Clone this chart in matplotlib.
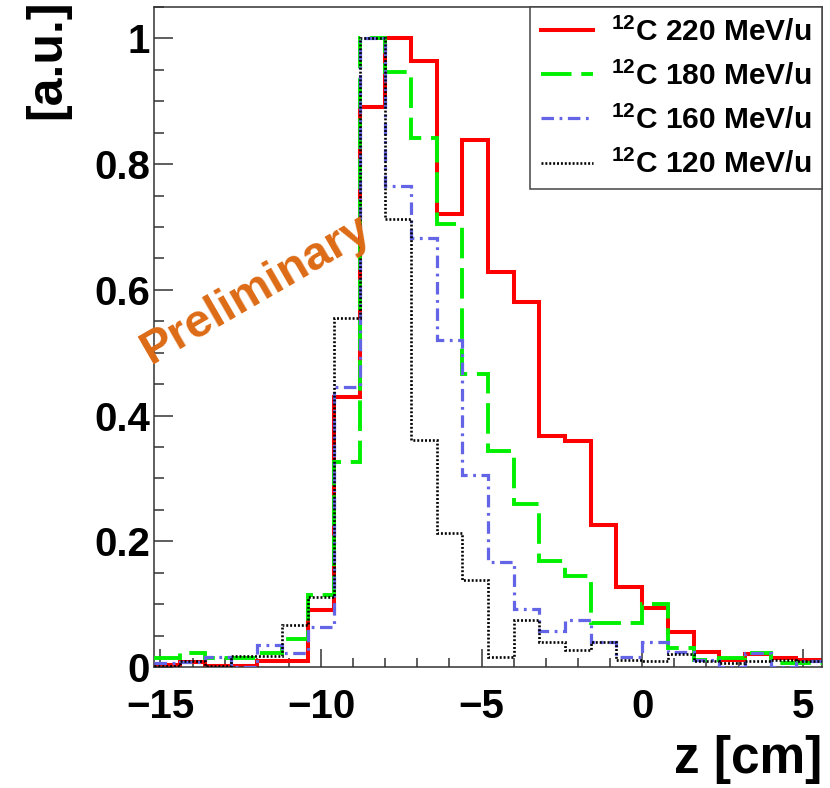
import numpy as np
import matplotlib
matplotlib.use("Agg")
import matplotlib.pyplot as plt
from matplotlib.ticker import MultipleLocator, FixedLocator, FuncFormatter

# ---------------- data ----------------
bin_edges = np.linspace(-15.2, 5.6, 27)   # 26 bins, 0.8 cm wide

c220 = [0.003, 0.008, 0.002, 0.002, 0.010, 0.010, 0.090, 0.430, 0.891, 1.000,
        0.964, 0.721, 0.838, 0.628, 0.580, 0.368, 0.360, 0.226, 0.128, 0.094,
        0.056, 0.024, 0.011, 0.020, 0.015, 0.011]
c180 = [0.014, 0.022, 0.014, 0.014, 0.023, 0.045, 0.115, 0.326, 1.000, 0.947,
        0.841, 0.704, 0.466, 0.344, 0.259, 0.168, 0.145, 0.070, 0.070, 0.100,
        0.030, 0.011, 0.014, 0.023, 0.007, 0.006]
c160 = [0.006, 0.008, 0.016, 0.000, 0.035, 0.023, 0.063, 0.446, 1.000, 0.765,
        0.683, 0.521, 0.306, 0.167, 0.092, 0.057, 0.074, 0.040, 0.016, 0.040,
        0.024, 0.011, 0.000, 0.022, 0.000, 0.010]
c120 = [0.001, 0.010, 0.001, 0.017, 0.017, 0.067, 0.112, 0.556, 1.000, 0.712,
        0.361, 0.213, 0.139, 0.016, 0.074, 0.039, 0.027, 0.039, 0.011, 0.010,
        0.020, 0.010, 0.006, 0.010, 0.011, 0.010]

labels = [r"$^{\mathregular{12}}$C 220 MeV/u",
          r"$^{\mathregular{12}}$C 180 MeV/u",
          r"$^{\mathregular{12}}$C 160 MeV/u",
          r"$^{\mathregular{12}}$C 120 MeV/u"]
xticks = [-15, -10, -5, 0, 5]
yticks = [0, 0.2, 0.4, 0.6, 0.8, 1.0]
xlabel = "z [cm]"
ylabel = "[a.u.]"
watermark = "Preliminary"

# ---------------- style ----------------
plt.rcParams["font.family"] = ["Liberation Sans", "DejaVu Sans"]
plt.rcParams["font.weight"] = "bold"
plt.rcParams["mathtext.fontset"] = "custom"
plt.rcParams["mathtext.rm"] = "Liberation Sans:bold"
plt.rcParams["mathtext.bf"] = "Liberation Sans:bold"
plt.rcParams["mathtext.it"] = "Liberation Sans:italic:bold"
plt.rcParams["lines.scale_dashes"] = False

fig = plt.figure(figsize=(8.30, 7.88), dpi=100)
ax = fig.add_axes([154/830, 1 - 667/788, (822 - 154)/830, (667 - 7)/788])

styles = [
    dict(color="#FF0000", linewidth=2.9, linestyle="-"),
    dict(color="#00F000", linewidth=2.8, linestyle=(0, (22, 7))),
    dict(color="#6464E6", linewidth=2.3, linestyle=(0, (9, 4, 2, 4))),
    dict(color="#000000", linewidth=1.9, linestyle=(0, (1.4, 1.4))),
]
series = [c220, c180, c160, c120]
handles = []
for i, (vals, st, lab) in enumerate(zip(series, styles, labels)):
    h = ax.stairs(vals, bin_edges, baseline=None, fill=False, label=lab,
                  zorder=2 + i, **st)
    handles.append(h)

ax.set_xlim(-15.2, 5.6)
ax.set_ylim(0, 1.05)

ax.xaxis.set_major_locator(FixedLocator(xticks))
ax.xaxis.set_minor_locator(MultipleLocator(1))
ax.yaxis.set_major_locator(FixedLocator(yticks))
ax.yaxis.set_minor_locator(MultipleLocator(0.05))
fmt = FuncFormatter(lambda v, p: ("%g" % v).replace("-", "\u2212"))
ax.xaxis.set_major_formatter(fmt)
ax.yaxis.set_major_formatter(fmt)

ax.tick_params(which="both", direction="in", top=False, right=False,
               width=1.1, color="#333333")
ax.tick_params(axis="y", which="major", length=14, pad=3, labelsize=29)
ax.tick_params(axis="y", which="minor", length=7)
ax.tick_params(axis="x", which="major", length=13, pad=15, labelsize=29)
ax.tick_params(axis="x", which="minor", length=6.5)
for sp in ax.spines.values():
    sp.set_linewidth(1.1)
    sp.set_color("#333333")

ax.set_xlabel(xlabel, loc="right", fontsize=37, fontweight="bold")
ax.xaxis.set_label_coords(1.0, -0.103)
ax.set_ylabel(ylabel, loc="top", fontsize=36, fontweight="bold")
ax.yaxis.set_label_coords(-0.126, 1.012)

leg = ax.legend(handles=handles, loc="upper right", bbox_to_anchor=(1.0, 1.0),
                borderaxespad=0.0, fancybox=False, framealpha=1.0,
                edgecolor="#444444", handlelength=1.75, handletextpad=0.6,
                labelspacing=0.5, borderpad=0.35,
                prop=dict(family="Liberation Sans", weight="bold", size=21.5))
leg.get_frame().set_linewidth(1.1)
leg.set_zorder(10)

ax.text(-12.0, 0.60, watermark, rotation=30, color="#DD6B16", fontsize=34,
        fontweight="bold", ha="center", va="center", zorder=12)

fig.savefig("out.png", dpi=100)
